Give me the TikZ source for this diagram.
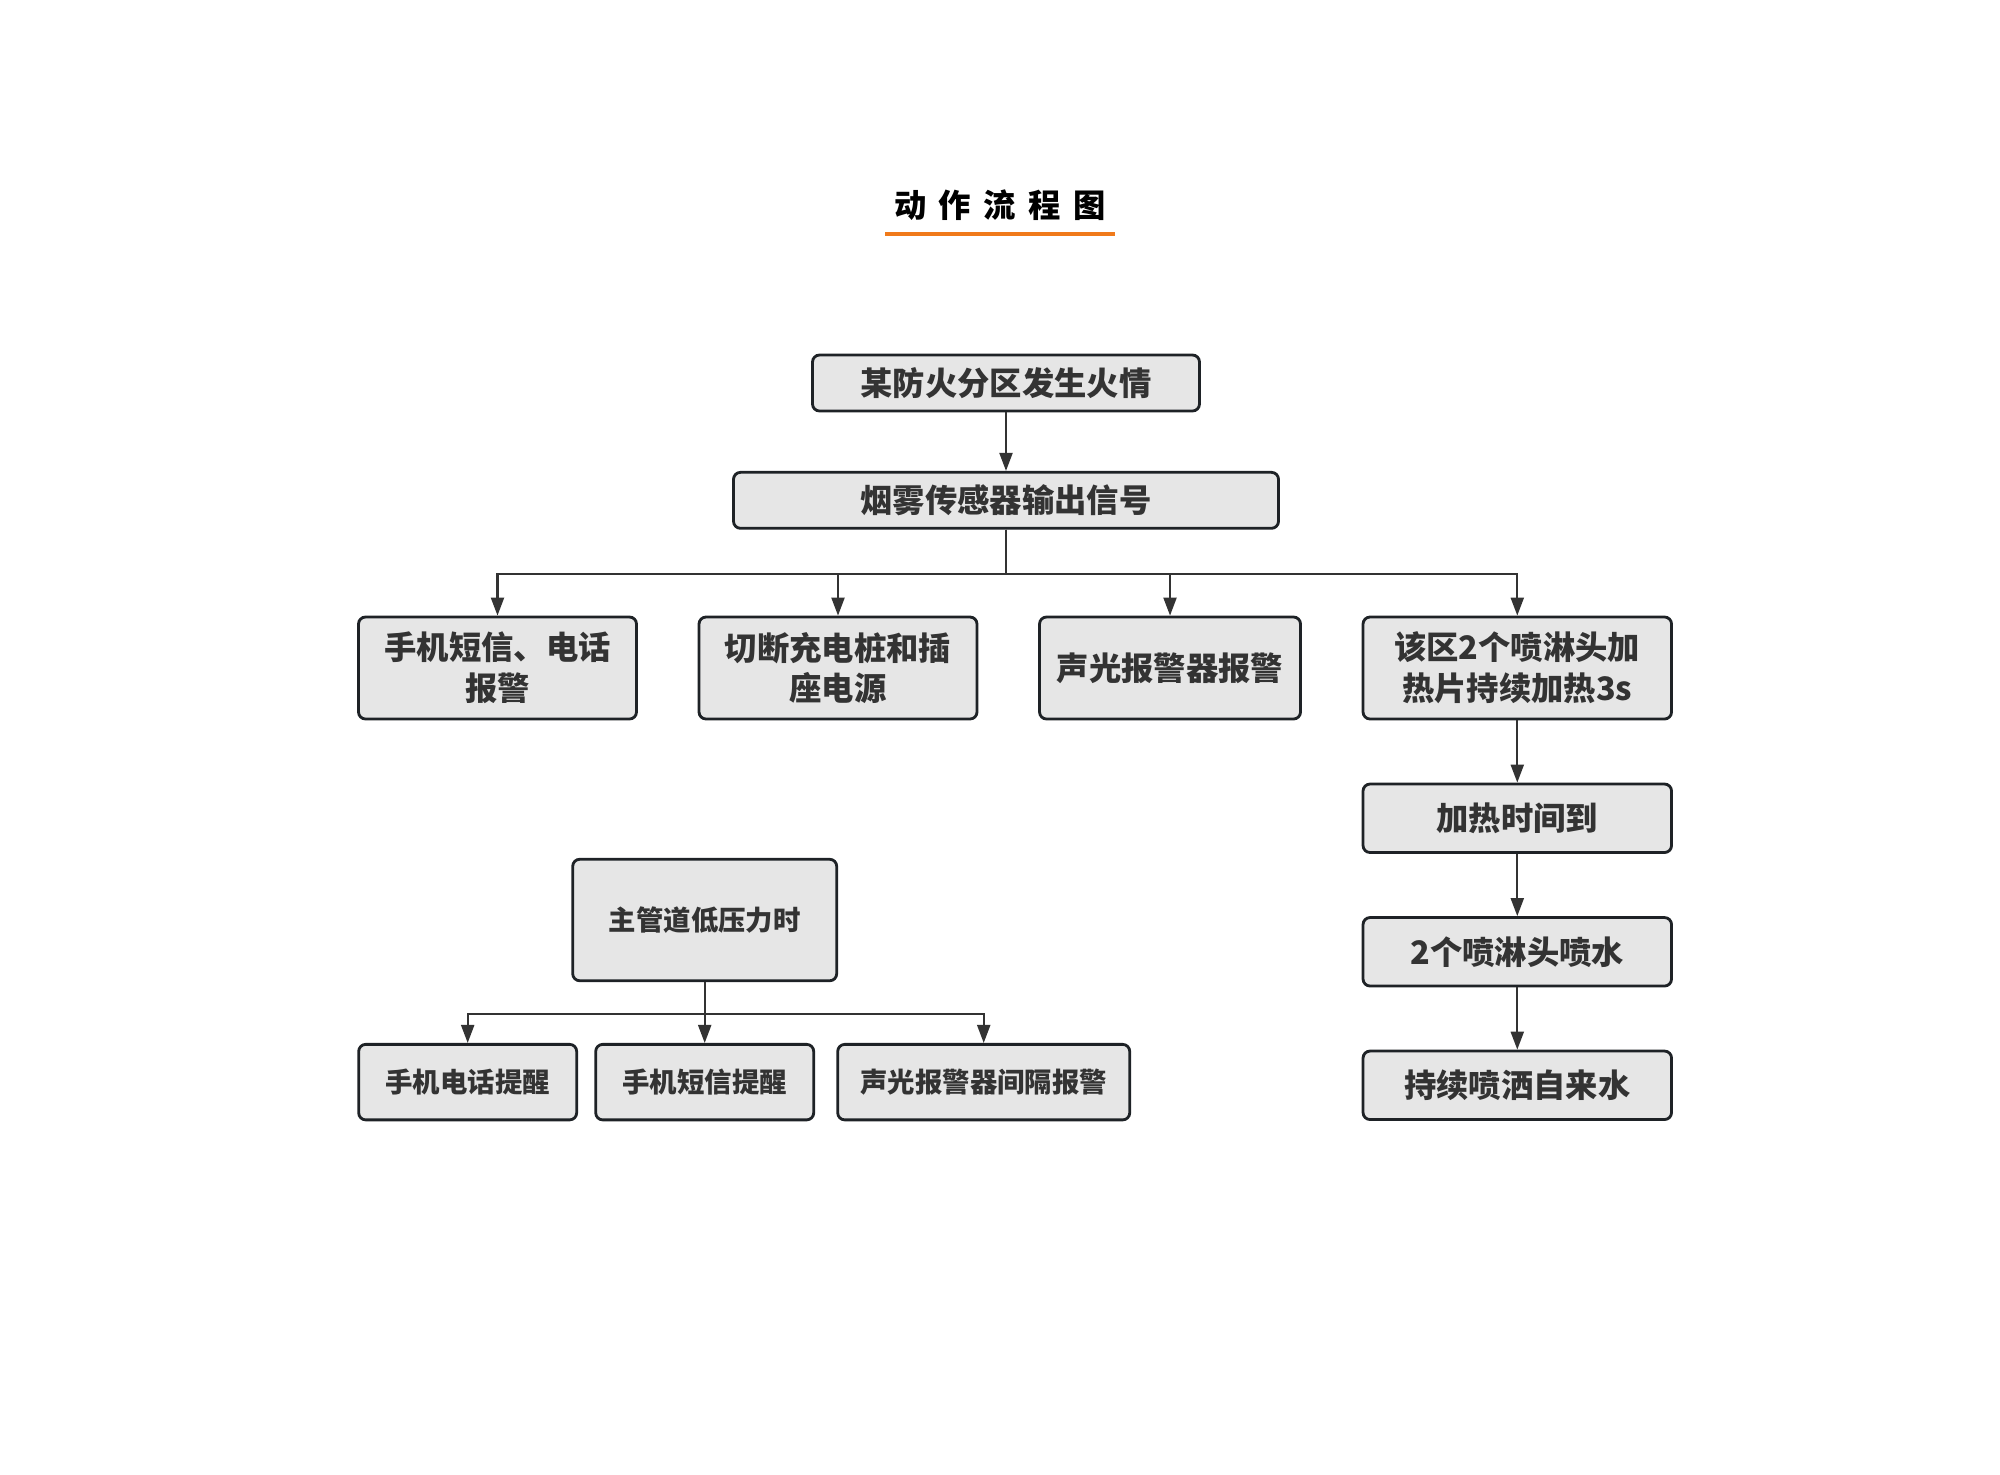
\documentclass[tikz,border=0pt]{standalone}
\usepackage{fontspec}
\setmainfont{Noto Sans CJK SC}
\usepackage{xcolor}
\usepackage{tikz}
\usetikzlibrary{arrows.meta,positioning,calc}

\definecolor{boxfill}{HTML}{E6E6E6}
\definecolor{boxline}{HTML}{1E2226}
\definecolor{txt}{HTML}{333333}
\definecolor{arrline}{HTML}{333333}
\definecolor{accent}{HTML}{F07A1A}

\begin{document}
\begin{tikzpicture}[
    box/.style={draw=boxline, rounded corners=2pt, fill=boxfill, line width=0.8pt, inner sep=0pt, align=center, text=txt, font=\fontsize{9.2}{11.6}\selectfont\bfseries},
    smallbox/.style={box, font=\fontsize{7.8}{9.5}\selectfont\bfseries},
    arr/.style={-{Triangle[length=1.8mm, width=1.3mm]}, line width=0.6pt, draw=arrline},
    titleline/.style={draw=accent, line width=1.2pt},
]
\useasboundingbox (0,0) rectangle (20,-14.74);
% Title
\node[inner xsep=0.08cm, inner ysep=0.05cm, font=\fontsize{9.2}{11}\selectfont\bfseries] (title) at (10.0,-2.05)
    {动\hspace{0.125cm}作\hspace{0.125cm}流\hspace{0.125cm}程\hspace{0.125cm}图};
\draw[titleline] ([yshift=-0.08cm]title.south west) -- ([yshift=-0.08cm]title.south east);
% Main chain
\node[box, minimum width=3.87cm, minimum height=0.56cm] (fire) at (10.06,-3.83) {某防火分区发生火情};
\node[box, below=0.585cm of fire, minimum width=5.45cm, minimum height=0.56cm] (smoke) {烟雾传感器输出信号};
% Actions
\node[box, minimum width=2.78cm, minimum height=1.02cm] (sms) at (4.975,-6.68) {手机短信、电话\\报警};
\node[box, right=0.597cm of sms, minimum width=2.78cm, minimum height=1.02cm] (cut) {切断充电桩和插\\座电源};
\node[box, right=0.597cm of cut, minimum width=2.61cm, minimum height=1.02cm] (alarm) {声光报警器报警};
\node[box, right=0.597cm of alarm, minimum width=3.085cm, minimum height=1.02cm] (heat) {该区2个喷淋头加\\热片持续加热3s};
% Sprinkler column
\node[box, below=0.622cm of heat, minimum width=3.085cm, minimum height=0.685cm] (timeup) {加热时间到};
\node[box, below=0.622cm of timeup, minimum width=3.085cm, minimum height=0.685cm] (spray) {2个喷淋头喷水};
\node[box, below=0.622cm of spray, minimum width=3.085cm, minimum height=0.685cm] (water) {持续喷洒自来水};
% Low pressure branch
\node[smallbox, minimum width=2.64cm, minimum height=1.215cm] (lowp) at (7.047,-9.20) {主管道低压力时};
\node[smallbox, below=0.608cm of lowp, minimum width=2.18cm, minimum height=0.755cm] (msg) {手机短信提醒};
\node[smallbox, left=0.162cm of msg, minimum width=2.18cm, minimum height=0.755cm] (call) {手机电话提醒};
\node[smallbox, right=0.212cm of msg, minimum width=2.92cm, minimum height=0.755cm] (beep) {声光报警器间隔报警};
% Arrows
\draw[arr] (fire) -- (smoke);
\draw[arr] (smoke.south) -- ++(0,-0.447) -| (sms.north);
\draw[arr] (smoke.south) -- ++(0,-0.447) -| (cut.north);
\draw[arr] (smoke.south) -- ++(0,-0.447) -| (alarm.north);
\draw[arr] (smoke.south) -- ++(0,-0.447) -| (heat.north);
\draw[arr] (heat) -- (timeup);
\draw[arr] (timeup) -- (spray);
\draw[arr] (spray) -- (water);
\draw[arr] (lowp.south) -- ++(0,-0.317) -| (call.north);
\draw[arr] (lowp) -- (msg);
\draw[arr] (lowp.south) -- ++(0,-0.317) -| (beep.north);
\end{tikzpicture}
\end{document}
